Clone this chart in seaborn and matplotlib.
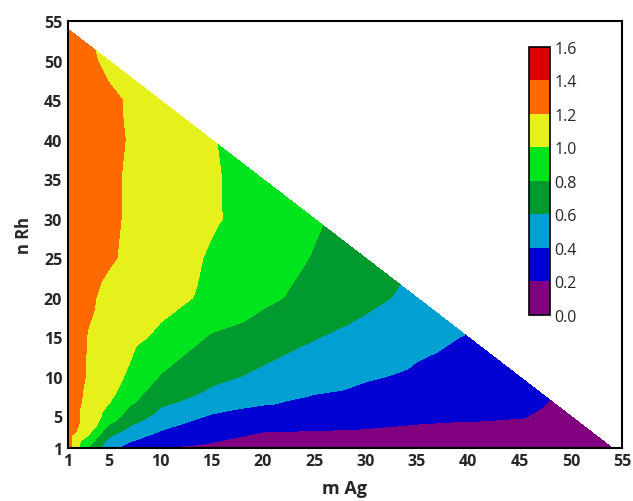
import numpy as np
import matplotlib
matplotlib.use("Agg")
import matplotlib.pyplot as plt
import matplotlib.tri as mtri
from matplotlib.colors import ListedColormap, BoundaryNorm
import seaborn as sns

# grid positions (m Ag along x, n Rh along y)
m_vals = [1, 3, 5, 7, 10, 15, 20, 25, 30, 35, 40, 45, 50, 54]
n_vals = [1, 3, 5, 7, 10, 15, 20, 25, 30, 35, 40, 45, 50, 54]

# values, one row per n, None outside the triangle
z_rows = [
    [1.28, 0.80, 0.45, 0.33, 0.20, 0.15, 0.12, 0.12, 0.12, 0.11, 0.11, 0.10, 0.10, 0.10],  # n=1
    [1.30, 1.05, 0.68, 0.53, 0.39, 0.30, 0.20, 0.19, 0.18, 0.15, 0.14, 0.13, 0.12, None],  # n=3
    [1.31, 1.12, 0.93, 0.71, 0.54, 0.38, 0.33, 0.30, 0.27, 0.25, 0.23, 0.21, 0.15, None],  # n=5
    [1.31, 1.15, 1.02, 0.85, 0.65, 0.53, 0.43, 0.37, 0.33, 0.30, 0.27, 0.24, None, None],  # n=7
    [1.32, 1.18, 1.08, 0.97, 0.79, 0.65, 0.56, 0.49, 0.42, 0.37, 0.32, 0.27, None, None],  # n=10
    [1.32, 1.19, 1.13, 1.06, 0.96, 0.78, 0.70, 0.61, 0.53, 0.45, 0.39, None, None, None],  # n=15
    [1.33, 1.23, 1.15, 1.12, 1.07, 0.96, 0.84, 0.74, 0.65, 0.55, None, None, None, None],  # n=20
    [1.33, 1.28, 1.22, 1.17, 1.10, 0.98, 0.88, 0.79, 0.70, None, None, None, None, None],  # n=25
    [1.33, 1.28, 1.23, 1.18, 1.12, 1.02, 0.93, 0.82, None, None, None, None, None, None],  # n=30
    [1.33, 1.28, 1.23, 1.18, 1.12, 1.02, 0.92, None, None, None, None, None, None, None],  # n=35
    [1.33, 1.28, 1.24, 1.19, 1.13, 1.01, None, None, None, None, None, None, None, None],  # n=40
    [1.33, 1.28, 1.24, 1.18, 1.12, None, None, None, None, None, None, None, None, None],  # n=45
    [1.32, 1.24, 1.15, None, None, None, None, None, None, None, None, None, None, None],  # n=50
    [1.30, None, None, None, None, None, None, None, None, None, None, None, None, None],  # n=54
]

levels = [0.0, 0.2, 0.4, 0.6, 0.8, 1.0, 1.2, 1.4, 1.6]
band_colors = ["#800080", "#0000d2", "#00a0d2", "#009a2e", "#00e41e",
               "#e6f01a", "#ff6a00", "#dc0000"]

# flatten to scattered points inside the triangle
xs, ys, zs = [], [], []
for j, n in enumerate(n_vals):
    for i, m in enumerate(m_vals):
        if z_rows[j][i] is not None:
            xs.append(m)
            ys.append(n)
            zs.append(z_rows[j][i])

sns.set_style("white")
plt.rcParams["font.family"] = ["Open Sans", "DejaVu Sans"]

fig = plt.figure(figsize=(6.33, 5.02), dpi=100)
ax = fig.add_axes([0.107, 0.106, 0.876, 0.850])

cmap = ListedColormap(band_colors)
norm = BoundaryNorm(levels, cmap.N)
tri = mtri.Triangulation(xs, ys)
cs = ax.tricontourf(tri, zs, levels=levels, cmap=cmap, norm=norm)

ax.set_xlim(1, 55)
ax.set_ylim(1, 55)
ticks = [1, 5, 10, 15, 20, 25, 30, 35, 40, 45, 50, 55]
ax.set_xticks(ticks)
ax.set_yticks(ticks)
ax.tick_params(direction="in", length=5, width=1.2, labelsize=11.5, pad=4,
               top=False, right=False, left=True, bottom=True)
for lab in ax.get_xticklabels() + ax.get_yticklabels():
    lab.set_fontweight("bold")
for sp in ax.spines.values():
    sp.set_color("black")
    sp.set_linewidth(1.5)
ax.set_xlabel("m Ag", fontsize=13, fontweight="bold", labelpad=7)
ax.set_ylabel("n Rh", fontsize=12, fontweight="bold", labelpad=8)

cax = fig.add_axes([0.836, 0.371, 0.033, 0.534])
cb = fig.colorbar(cs, cax=cax, ticks=levels)
cb.ax.set_yticklabels(["%.1f" % v for v in levels])
cb.ax.tick_params(length=0, labelsize=11.5, pad=3)
cb.outline.set_linewidth(1.2)
cb.outline.set_edgecolor("black")

fig.savefig("out.png", dpi=100)
